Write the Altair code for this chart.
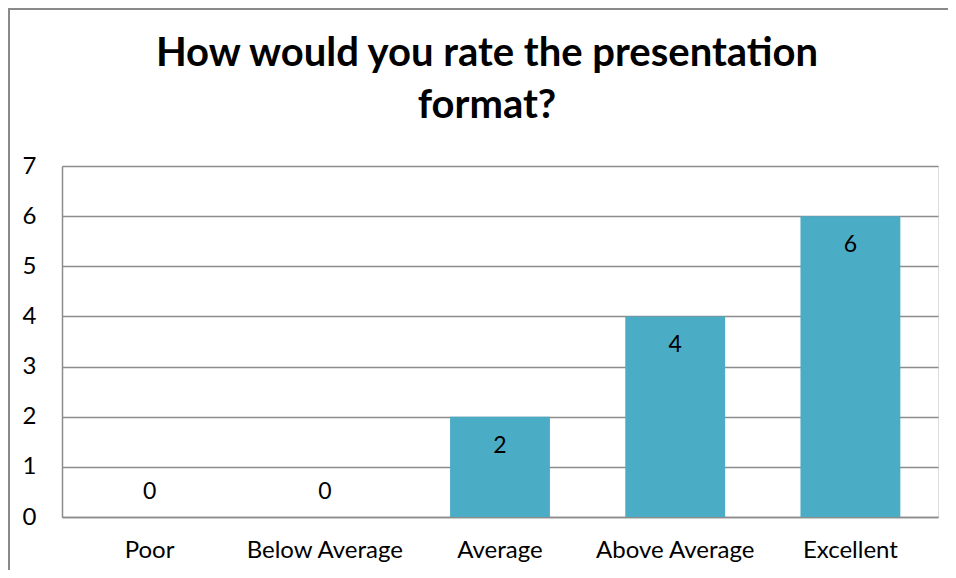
import altair as alt
import pandas as pd

categories = ["Poor", "Below Average", "Average", "Above Average", "Excellent"]
values = [0, 0, 2, 4, 6]
y_ticks = [0, 1, 2, 3, 4, 5, 6, 7]
title_lines = ["How would you rate the presentation", "format?"]

df = pd.DataFrame({"category": categories, "value": values})

FONT = "Lato"
GRID = "#8c8c8c"

x_enc = alt.X("category:N", sort=categories,
              scale=alt.Scale(paddingInner=0.43, paddingOuter=0.215),
              axis=alt.Axis(title=None, labelAngle=0, ticks=False, domain=True,
                            domainColor=GRID, domainWidth=1.5,
                            labelFont=FONT, labelFontSize=24, labelColor="#000000",
                            labelPadding=21))
y_enc = alt.Y("value:Q", scale=alt.Scale(domain=[0, 7], nice=False),
              axis=alt.Axis(title=None, values=y_ticks, ticks=False, domain=True,
                            domainColor=GRID, domainWidth=1.5,
                            grid=True, gridColor=GRID, gridWidth=1.5,
                            labelFont=FONT, labelFontSize=24, labelColor="#000000",
                            labelPadding=26))

base = alt.Chart(df)

bars = base.mark_bar(color="#4BACC6").encode(x=x_enc, y=y_enc)

labels_in = base.transform_filter("datum.value > 0").mark_text(
    font=FONT, fontSize=23, color="#000000", baseline="middle", dy=29
).encode(x=alt.X("category:N", sort=categories), y="value:Q", text="value:Q")

labels_zero = base.transform_filter("datum.value == 0").mark_text(
    font=FONT, fontSize=23, color="#000000", baseline="middle", dy=-25
).encode(x=alt.X("category:N", sort=categories), y="value:Q", text="value:Q")

one = pd.DataFrame({"k": [0]})
title1 = alt.Chart(one).mark_text(
    font=FONT, fontSize=40, fontWeight="bold", color="#000000", baseline="alphabetic", align="center"
).encode(x=alt.value(425), y=alt.value(-100), text=alt.value(title_lines[0]))
title2 = alt.Chart(one).mark_text(
    font=FONT, fontSize=40, fontWeight="bold", color="#000000", baseline="alphabetic", align="center"
).encode(x=alt.value(425), y=alt.value(-48), text=alt.value(title_lines[1]))

border_left = alt.Chart(one).mark_rule(color="#8a8a8a", strokeWidth=2).encode(
    x=alt.value(-53), y=alt.value(-157), y2=alt.value(470))
border_top = alt.Chart(one).mark_rule(color="#8a8a8a", strokeWidth=2).encode(
    x=alt.value(-54), x2=alt.value(960), y=alt.value(-157))

chart = alt.layer(bars, labels_in, labels_zero, title1, title2, border_left, border_top).properties(
    width=876, height=351,
    autosize=alt.AutoSizeParams(type="none"),
    padding={"left": 54, "top": 158, "right": 10, "bottom": 53},
).configure_view(stroke=None).configure(background="#ffffff")

chart.save("out.html", embed_options={"renderer": "svg", "actions": False})
